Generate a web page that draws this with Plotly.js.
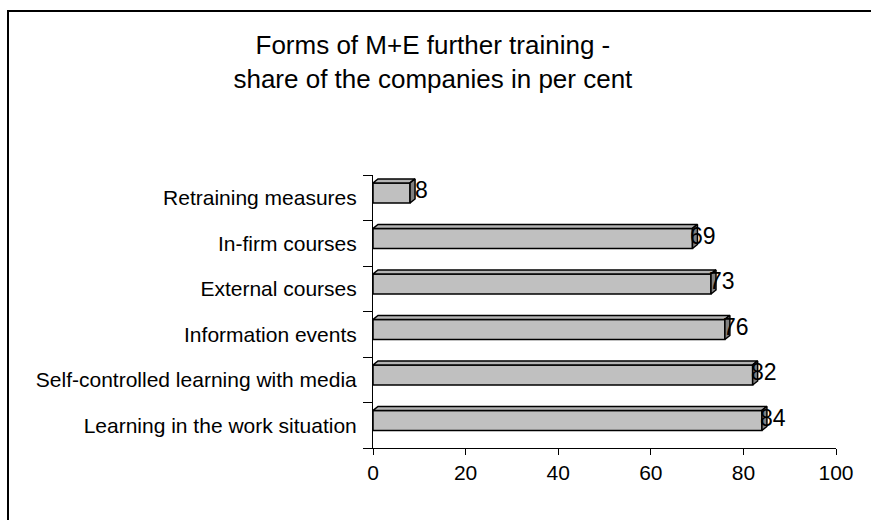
<!DOCTYPE html>
<html>
<head>
<meta charset="utf-8">
<script src="https://cdn.plot.ly/plotly-3.0.1.min.js"></script>
<style>
html,body{margin:0;padding:0;background:#fff;overflow:hidden;}
#wrap{position:relative;width:871px;height:520px;overflow:hidden;}
#chart{width:871px;height:520px;}
#frame{position:absolute;left:7px;top:10px;width:1000px;height:1000px;border-left:2px solid #000;border-top:2px solid #000;pointer-events:none;}
#mask{position:absolute;left:858px;top:13px;width:40px;height:520px;background:#fff;pointer-events:none;}
</style>
</head>
<body>
<div id="wrap"><div id="chart"></div><div id="mask"></div><div id="frame"></div></div>
<script>
// Data (bottom to top, as drawn)
var categories = [
  "Learning in the work situation",
  "Self-controlled learning with media",
  "Information events",
  "External courses",
  "In-firm courses",
  "Retraining measures"
];
var values = [84, 82, 76, 73, 69, 8];
var xTicks = [0, 20, 40, 60, 80, 100];

// geometry (styling only)
var barWidth = 0.44, barOffset = -0.115;   // front face, category units
var depthX = 1.08, depthY = 0.088;         // 3D depth in axis units
var pos = categories.map(function(c, i){ return i; });

var front = {
  type: 'bar', orientation: 'h',
  x: values, y: pos,
  width: barWidth, offset: barOffset,
  marker: {color: '#C0C0C0', line: {color: '#000', width: 1.5}},
  hoverinfo: 'skip', showlegend: false
};

var topX = [], topY = [], sideX = [], sideY = [];
values.forEach(function(v, i){
  var yb = i + barOffset, yt = i + barOffset + barWidth;
  topX.push(0, v, v + depthX, depthX, 0, null);
  topY.push(yt, yt, yt + depthY, yt + depthY, yt, null);
  sideX.push(v, v, v + depthX, v + depthX, v, null);
  sideY.push(yb, yt, yt + depthY, yb + depthY, yb, null);
});
var topFace = {
  type: 'scatter', mode: 'lines', x: topX, y: topY, fill: 'toself',
  fillcolor: '#B4B4B4', line: {color: '#000', width: 1.5},
  hoverinfo: 'skip', showlegend: false
};
var sideFace = {
  type: 'scatter', mode: 'lines', x: sideX, y: sideY, fill: 'toself',
  fillcolor: '#808080', line: {color: '#000', width: 1.5},
  hoverinfo: 'skip', showlegend: false
};

var annotations = values.map(function(v, i){
  return {
    x: v, y: i + 0.17, xref: 'x', yref: 'y',
    text: String(v), showarrow: false, xanchor: 'center', yanchor: 'middle',
    xshift: 11,
    font: {family: 'Liberation Sans, Arial, sans-serif', size: 23, color: '#000'}
  };
});

var L = 373, R = 35, T = 175, B = 72;

var layout = {
  width: 871, height: 520,
  margin: {l: L, r: R, t: T, b: B, pad: 0},
  paper_bgcolor: '#fff', plot_bgcolor: '#fff',
  font: {family: 'Liberation Sans, Arial, sans-serif', color: '#000'},
  title: {
    text: 'Forms of M+E further training -<br>share of the companies in per cent',
    font: {family: 'Liberation Sans, Arial, sans-serif', size: 26, color: '#000'},
    x: 0.497, xref: 'container', xanchor: 'center',
    y: 1 - 54/520, yref: 'container', yanchor: 'top'
  },
  xaxis: {
    range: [0, 100], tickvals: xTicks, ticktext: xTicks.map(String),
    showgrid: false, zeroline: false,
    showline: true, linecolor: '#000', linewidth: 1,
    ticks: 'outside', ticklen: 6, tickcolor: '#000', tickwidth: 1,
    tickfont: {size: 21, color: '#000'}, fixedrange: true
  },
  yaxis: {
    range: [-0.5, categories.length - 0.5],
    tickvals: pos, ticktext: categories,
    showgrid: false, zeroline: false,
    showline: true, linecolor: '#000', linewidth: 1,
    ticks: '', ticklabelstandoff: 11,
    minor: {tick0: 0.5, dtick: 1, ticks: 'outside', ticklen: 9, tickcolor: '#000', tickwidth: 1, showgrid: false},
    tickfont: {size: 21, color: '#000'}, fixedrange: true
  },
  annotations: annotations,
  showlegend: false
};

Plotly.newPlot('chart', [front, topFace, sideFace], layout, {displayModeBar: false, staticPlot: true});
</script>
</body>
</html>
